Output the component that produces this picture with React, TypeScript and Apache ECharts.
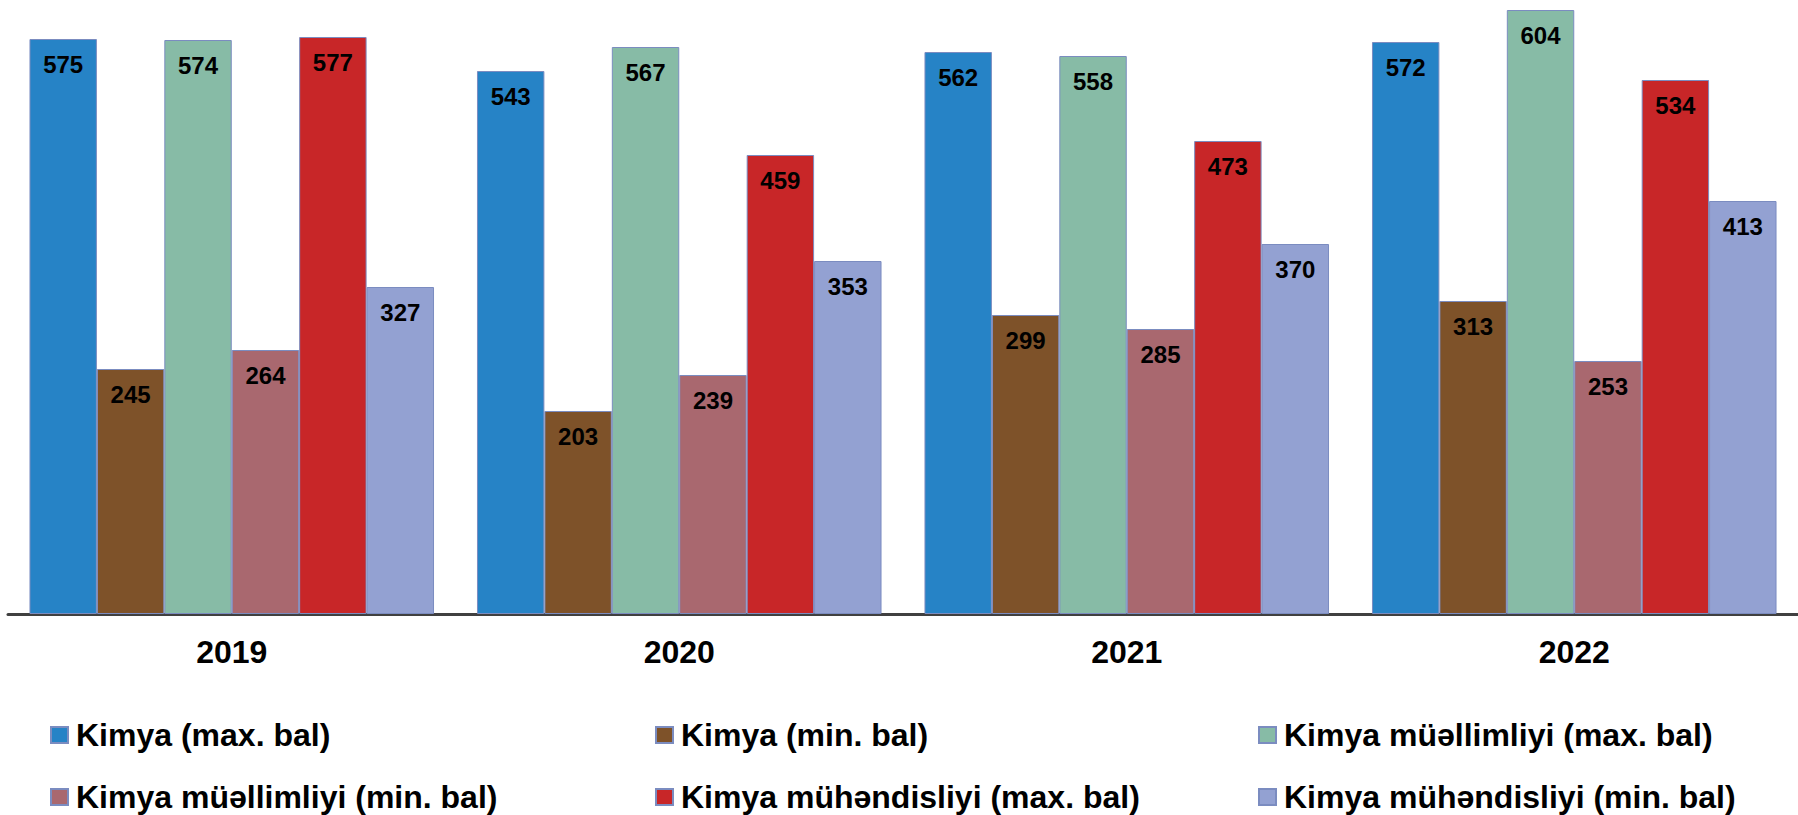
import React, { useEffect, useRef } from "react";
import * as echarts from "echarts";

const years = ["2019", "2020", "2021", "2022"];
const seriesNames = [
  "Kimya (max. bal)",
  "Kimya (min. bal)",
  "Kimya müəllimliyi (max. bal)",
  "Kimya müəllimliyi (min. bal)",
  "Kimya mühəndisliyi (max. bal)",
  "Kimya mühəndisliyi (min. bal)",
];
const kimyaMax = [575, 543, 562, 572];
const kimyaMin = [245, 203, 299, 313];
const muellimMax = [574, 567, 558, 604];
const muellimMin = [264, 239, 285, 253];
const muhendisMax = [577, 459, 473, 534];
const muhendisMin = [327, 353, 370, 413];
const colors = ["#2683C6", "#7E5229", "#87BBA6", "#A9686F", "#C82628", "#93A1D2"];

const allValues = [kimyaMax, kimyaMin, muellimMax, muellimMin, muhendisMax, muhendisMin];

// legend placement: [left, top]
const legendPos: [number, number][] = [
  [50, 719],
  [655, 719],
  [1258, 719],
  [50, 781],
  [655, 781],
  [1258, 781],
];

export default function App() {
  const ref = useRef<HTMLDivElement>(null);
  useEffect(() => {
    document.body.style.margin = "0";
    if (!ref.current) return;
    const chart = echarts.init(ref.current, null, { renderer: "svg" });
    const font = "Liberation Sans, Arial, sans-serif";
    chart.setOption({
      animation: false,
      backgroundColor: "#ffffff",
      grid: { left: 8, right: 0, top: 0, bottom: 201, containLabel: false },
      xAxis: {
        type: "category",
        data: years,
        axisTick: { show: false },
        axisLine: { lineStyle: { color: "#404040", width: 3 } },
        axisLabel: {
          fontFamily: font,
          fontWeight: "bold",
          fontSize: 32,
          color: "#000",
          margin: 22,
        },
      },
      yAxis: {
        type: "value",
        min: 0,
        max: 614,
        show: false,
        splitLine: { show: false },
      },
      legend: seriesNames.map((n, i) => ({
        data: [n],
        left: legendPos[i][0],
        top: legendPos[i][1],
        padding: 0,
        itemWidth: 17,
        itemHeight: 16,
        icon: "rect",
        selectedMode: false,
        textStyle: {
          fontFamily: font,
          fontWeight: "bold",
          fontSize: 32,
          lineHeight: 30,
          color: "#000",
          padding: [0, 0, 0, 3],
        },
      })),
      series: seriesNames.map((n, i) => ({
        name: n,
        type: "bar",
        data: allValues[i],
        barGap: "0%",
        barCategoryGap: "9.6%",
        itemStyle: { color: colors[i], borderColor: "#7B8CC0", borderWidth: 1 },
        label: {
          show: true,
          position: "insideTop",
          distance: 13,
          fontFamily: font,
          fontWeight: "bold",
          fontSize: 24,
          color: "#000",
        },
      })),
    });
    return () => chart.dispose();
  }, []);
  return <div ref={ref} style={{ width: 1798, height: 815 }} />;
}
